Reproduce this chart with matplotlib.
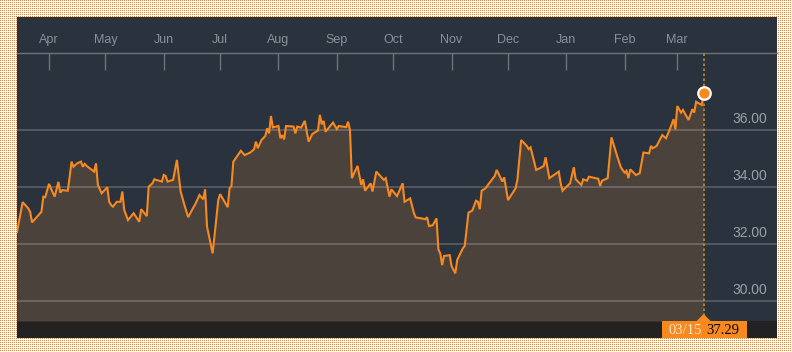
import numpy as np
import pandas as pd
import matplotlib
matplotlib.use('Agg')
import matplotlib.pyplot as plt
import matplotlib.dates as mdates
import matplotlib.transforms as mtransforms
from matplotlib.patches import Rectangle, Polygon

# dias desde 2018-03-15 e preco de fechamento
day = [0, 3, 6, 7, 8, 13, 14, 15, 17, 20, 22, 23, 24, 27, 28, 29, 30, 32, 34, 35,
       36, 37, 41, 42, 43, 45, 48, 49, 50, 51, 53, 55, 56, 57, 59, 62, 65, 66, 69, 70,
       72, 73, 77, 78, 79, 80, 83, 85, 87, 89, 91, 93, 95, 97, 99, 100, 101, 104, 107, 108,
       112, 113, 114, 115, 118, 119, 121, 124, 126, 127, 128, 130, 132, 133, 134, 135, 136, 139, 140, 141,
       142, 143, 147, 148, 149, 151, 153, 155, 157, 160, 161, 162, 163, 164, 168, 170, 171, 175, 176, 177,
       178, 181, 183, 184, 185, 188, 189, 191, 195, 196, 198, 199, 202, 205, 206, 209, 211, 212, 215, 217,
       218, 219, 221, 223, 224, 225, 226, 227, 230, 231, 233, 234, 237, 238, 240, 242, 244, 245, 246, 247,
       249, 251, 254, 255, 258, 259, 261, 265, 266, 268, 271, 272, 273, 276, 278, 280, 281, 283, 288, 289,
       290, 294, 296, 297, 300, 301, 303, 304, 309, 310, 311, 314, 316, 319, 321, 323, 324, 325, 326, 329,
       331, 333, 336, 337, 338, 340, 343, 345, 347, 349, 350, 351, 353, 354, 357, 359, 360, 361, 362, 364,
       365]
price = [32.42, 33.47, 33.25, 33.13, 32.76, 33.13, 33.66, 33.64, 34.11, 33.66, 34.18, 33.80, 33.89, 33.87, 34.36, 34.89, 34.71, 34.83, 34.89, 34.71,
         34.81, 34.74, 34.54, 34.83, 34.07, 33.78, 33.99, 33.48, 33.37, 33.31, 33.48, 33.48, 33.84, 33.19, 32.84, 33.08, 32.78, 33.22, 32.98, 34.01,
         34.13, 34.27, 34.19, 34.42, 34.39, 34.19, 34.25, 34.95, 33.84, 33.37, 32.94, 33.19, 33.43, 33.72, 33.57, 33.92, 32.62, 31.67, 33.54, 33.75,
         33.29, 33.95, 34.04, 34.89, 35.18, 35.27, 35.12, 35.21, 35.32, 35.59, 35.36, 35.65, 35.79, 36.06, 35.88, 36.49, 36.09, 36.14, 35.71, 35.82,
         35.67, 36.14, 36.12, 35.88, 36.12, 36.08, 36.32, 35.59, 35.86, 35.98, 36.53, 36.20, 36.32, 35.94, 36.26, 36.03, 36.14, 36.10, 36.29, 36.00,
         34.31, 34.74, 34.07, 34.27, 33.87, 34.13, 33.84, 34.54, 34.25, 34.31, 33.66, 33.92, 33.68, 34.13, 33.48, 33.60, 33.08, 32.93, 32.90, 32.87,
         32.94, 32.63, 32.66, 32.90, 31.81, 31.67, 31.26, 31.58, 31.61, 31.23, 30.97, 31.44, 31.85, 31.93, 33.10, 33.17, 33.52, 33.48, 33.22, 33.87,
         33.95, 34.13, 34.39, 34.60, 34.19, 34.34, 33.54, 33.95, 34.25, 35.65, 35.44, 35.33, 35.39, 34.60, 34.66, 34.74, 35.04, 34.31, 34.54, 34.13,
         33.87, 34.13, 34.69, 34.27, 34.07, 34.27, 34.22, 34.36, 34.29, 34.04, 34.22, 34.31, 35.74, 35.09, 34.69, 34.50, 34.57, 34.31, 34.62, 34.42,
         34.48, 35.21, 35.18, 35.44, 35.36, 35.44, 35.82, 35.71, 36.02, 36.38, 36.02, 36.84, 36.61, 36.70, 36.35, 36.73, 36.61, 36.99, 36.95, 36.88,
         37.29]
y_ticks = [30, 32, 34, 36]
last_label = '03/15'

inicio = pd.Timestamp('2018-03-15')
datas = inicio + pd.to_timedelta(day, unit='D')
meses = pd.date_range('2018-04-01', periods=12, freq='MS')

laranja = '#f7891f'
fundo = '#29323d'
W, H = 792, 352

fig = plt.figure(figsize=(W / 100, H / 100), dpi=100)
fig.patch.set_facecolor('white')

# fundo pontilhado laranja
padrao = np.ones((H, W, 3))
padrao[::2, ::2] = [0.90, 0.52, 0.22]
fig.figimage(padrao, xo=0, yo=0, zorder=-10)

# painel escuro + barra de baixo
fig.add_artist(Rectangle((17 / W, 14 / H), 760 / W, 321 / H, transform=fig.transFigure,
                         facecolor=fundo, edgecolor='none', zorder=-5))
fig.add_artist(Rectangle((17 / W, 14 / H), 760 / W, 17 / H, transform=fig.transFigure,
                         facecolor='#222222', edgecolor='none', zorder=-4))

ax = fig.add_axes([17 / W, 31 / H, 760 / W, 268 / H])
ax.set_facecolor(fundo)

ax.fill_between(datas, price, 29.3, color='#4b423c', lw=0, zorder=1)
acima = mtransforms.offset_copy(ax.get_yaxis_transform(), fig=fig, y=4, units='dots')
for v in y_ticks:
    ax.axhline(v, color='white', alpha=0.22, lw=1.2, zorder=2)
    ax.text(0.987, v, f'{v:.2f}', transform=acima, ha='right', va='bottom',
            color='#9aa0a8', fontsize=10, family='Liberation Sans', zorder=3)
ax.plot(datas, price, color=laranja, lw=1.5, zorder=4, solid_joinstyle='miter')
ax.axvline(datas[-1], color='#c28a2a', lw=1.2, ls=(0, (1.5, 1.5)), zorder=3)
ax.plot(datas[-1], price[-1], 'o', ms=9, mfc=laranja, mec='white', mew=1.6, zorder=5)

ax.set_xlim(inicio, inicio + pd.Timedelta(days=404))
ax.set_ylim(29.3, 38.7)
ax.set_yticks([])

ax.xaxis.tick_top()
ax.set_xticks(meses)
ax.set_xticklabels([m.strftime('%b') for m in meses], family='Liberation Sans', fontsize=9, color='#8a9099')
ax.tick_params(axis='x', direction='in', length=12, width=1, color='#6d737a', pad=5)
for s in ['left', 'right', 'bottom']:
    ax.spines[s].set_visible(False)
ax.spines['top'].set_color('#6d737a')
ax.spines['top'].set_linewidth(1)

# caixa com data e valor do ultimo ponto
xd = mdates.date2num(datas[-1])
base = mtransforms.blended_transform_factory(ax.transData, ax.transAxes)
pix = mtransforms.Affine2D() + mtransforms.ScaledTranslation(xd, 0, base)
ax.add_patch(Rectangle((-42, -17), 85, 17, transform=pix, facecolor=laranja, edgecolor='none',
                       clip_on=False, zorder=6))
ax.add_patch(Polygon([(-8, -1), (8, -1), (0, 7)], closed=True, transform=pix, facecolor=laranja,
                     edgecolor='none', clip_on=False, zorder=6))
ax.text(-18, -9, last_label, transform=pix, ha='center', va='center', color='#fde8d0',
        fontsize=10.5, family='Liberation Serif', zorder=7)
ax.text(19, -9, f'{price[-1]:.2f}', transform=pix, ha='center', va='center', color='black',
        fontsize=10.5, family='Liberation Serif', zorder=7)

fig.savefig('out.png', dpi=100, facecolor=fig.get_facecolor())
